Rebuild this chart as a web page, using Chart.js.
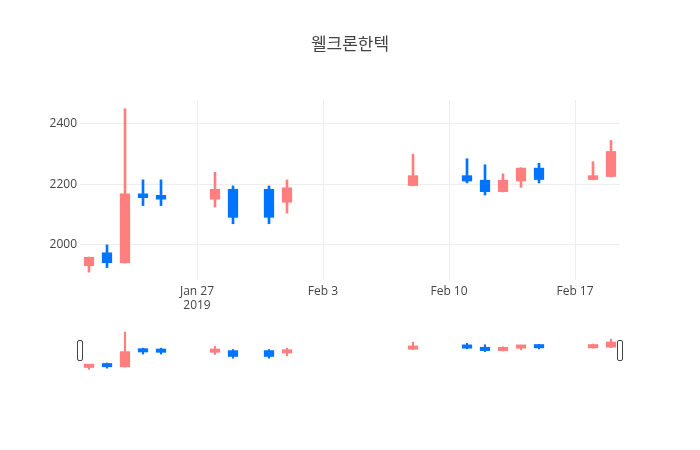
<!DOCTYPE html>
<html>
<head>
<meta charset="utf-8">
<script src="https://cdn.jsdelivr.net/npm/chart.js@4.4.1/dist/chart.umd.min.js"></script>
<style>
body { margin: 0; background: #fff; }
#wrap { position: relative; width: 700px; height: 450px; }
#main { position: absolute; left: 0; top: 0; }
#slider { position: absolute; left: 70px; top: 330px; }
</style>
</head>
<body>
<div id="wrap">
  <canvas id="main" width="700" height="450"></canvas>
  <canvas id="slider" width="560" height="41"></canvas>
</div>
<script>
var title = '웰크론한텍';
var dates = ['2019-01-21','2019-01-22','2019-01-23','2019-01-24','2019-01-25','2019-01-28','2019-01-29','2019-01-31','2019-02-01','2019-02-08','2019-02-11','2019-02-12','2019-02-13','2019-02-14','2019-02-15','2019-02-18','2019-02-19'];
var opens  = [1930, 1975, 1940, 2170, 2165, 2150, 2185, 2185, 2140, 2195, 2230, 2215, 2175, 2210, 2255, 2215, 2225];
var highs  = [1960, 2000, 2450, 2215, 2215, 2240, 2195, 2195, 2215, 2300, 2285, 2265, 2235, 2255, 2270, 2275, 2345];
var lows   = [1910, 1925, 1940, 2130, 2130, 2125, 2070, 2070, 2105, 2195, 2205, 2165, 2175, 2190, 2205, 2215, 2225];
var closes = [1960, 1940, 2170, 2155, 2150, 2185, 2090, 2090, 2190, 2230, 2210, 2175, 2215, 2255, 2215, 2230, 2310];
var tickDates = ['2019-01-27','2019-02-03','2019-02-10','2019-02-17'];
var tickLabels = [['Jan 27','2019'], 'Feb 3', 'Feb 10', 'Feb 17'];
var yTicks = [2000, 2200, 2400];

var upColor = '#ff7f7f';
var downColor = '#0074ff';

function dayNum(s) { return Date.UTC(+s.slice(0,4), +s.slice(5,7) - 1, +s.slice(8,10)) / 86400000; }
var days = dates.map(dayNum);
var tickDays = tickDates.map(dayNum);
var colors = days.map(function(d, i) { return closes[i] >= opens[i] ? upColor : downColor; });
var xMin = days[0] - 0.5, xMax = days[days.length - 1] + 0.5;
var yMin = 1884, yMax = 2479;

var bodies = days.map(function(d, i) { return { x: d, y: [opens[i], closes[i]] }; });
var wicks = days.map(function(d, i) { return { x: d, y: [lows[i], highs[i]] }; });

Chart.defaults.font.family = '"Open Sans", "Noto Sans CJK KR", sans-serif';
Chart.defaults.color = '#444';

var titlePlugin = {
  id: 'titleText',
  afterDraw: function(chart) {
    var ctx = chart.ctx;
    ctx.save();
    ctx.font = '17px "Open Sans", "Noto Sans CJK KR", sans-serif';
    ctx.fillStyle = '#444';
    ctx.textAlign = 'center';
    ctx.textBaseline = 'middle';
    ctx.fillText(title, 350, 45);
    ctx.restore();
  }
};

new Chart(document.getElementById('main'), {
  type: 'bar',
  data: {
    datasets: [
      { data: bodies, backgroundColor: colors, barPercentage: 0.57, categoryPercentage: 1, grouped: false },
      { data: wicks, backgroundColor: colors, barThickness: 2, grouped: false }
    ]
  },
  options: {
    responsive: false,
    animation: false,
    layout: { padding: { left: 0, right: 80, top: 100, bottom: 0 } },
    plugins: { legend: { display: false }, tooltip: { enabled: false }, title: { display: false } },
    scales: {
      x: {
        type: 'linear', min: xMin, max: xMax, offset: false,
        afterFit: function(s) { s.height = 170; },
        afterBuildTicks: function(s) { s.ticks = tickDays.map(function(v) { return { value: v }; }); },
        ticks: {
          padding: 4, maxRotation: 0, autoSkip: false, font: { size: 12 },
          callback: function(v) { return tickLabels[tickDays.indexOf(v)]; }
        },
        grid: { color: '#eeeeee', drawTicks: false, offset: false },
        border: { display: false }
      },
      y: {
        min: yMin, max: yMax,
        afterFit: function(s) { s.width = 80; },
        afterBuildTicks: function(s) { s.ticks = yTicks.map(function(v) { return { value: v }; }); },
        ticks: { padding: 3, font: { size: 12 }, callback: function(v) { return String(v); } },
        grid: { color: '#eeeeee', drawTicks: false },
        border: { display: false }
      }
    }
  },
  plugins: [titlePlugin]
});

var handlePlugin = {
  id: 'handles',
  afterDraw: function(chart) {
    var ctx = chart.ctx, a = chart.chartArea;
    ctx.save();
    ctx.fillStyle = '#fff';
    ctx.strokeStyle = '#444';
    ctx.lineWidth = 1;
    [a.left, a.right].forEach(function(x) {
      ctx.beginPath();
      ctx.roundRect(x - 2.5, 10.5, 5, 20, 1.5);
      ctx.fill();
      ctx.stroke();
    });
    ctx.restore();
  }
};

new Chart(document.getElementById('slider'), {
  type: 'bar',
  data: {
    datasets: [
      { data: bodies, backgroundColor: colors, barPercentage: 0.57, categoryPercentage: 1, grouped: false, minBarLength: 4 },
      { data: wicks, backgroundColor: colors, barThickness: 1.5, grouped: false }
    ]
  },
  options: {
    responsive: false,
    animation: false,
    layout: { padding: { left: 10, right: 10, top: 0, bottom: 0 } },
    plugins: { legend: { display: false }, tooltip: { enabled: false } },
    scales: {
      x: { type: 'linear', min: xMin, max: xMax, offset: false, display: false },
      y: { min: yMin, max: yMax, display: false }
    }
  },
  plugins: [handlePlugin]
});
</script>
</body>
</html>
